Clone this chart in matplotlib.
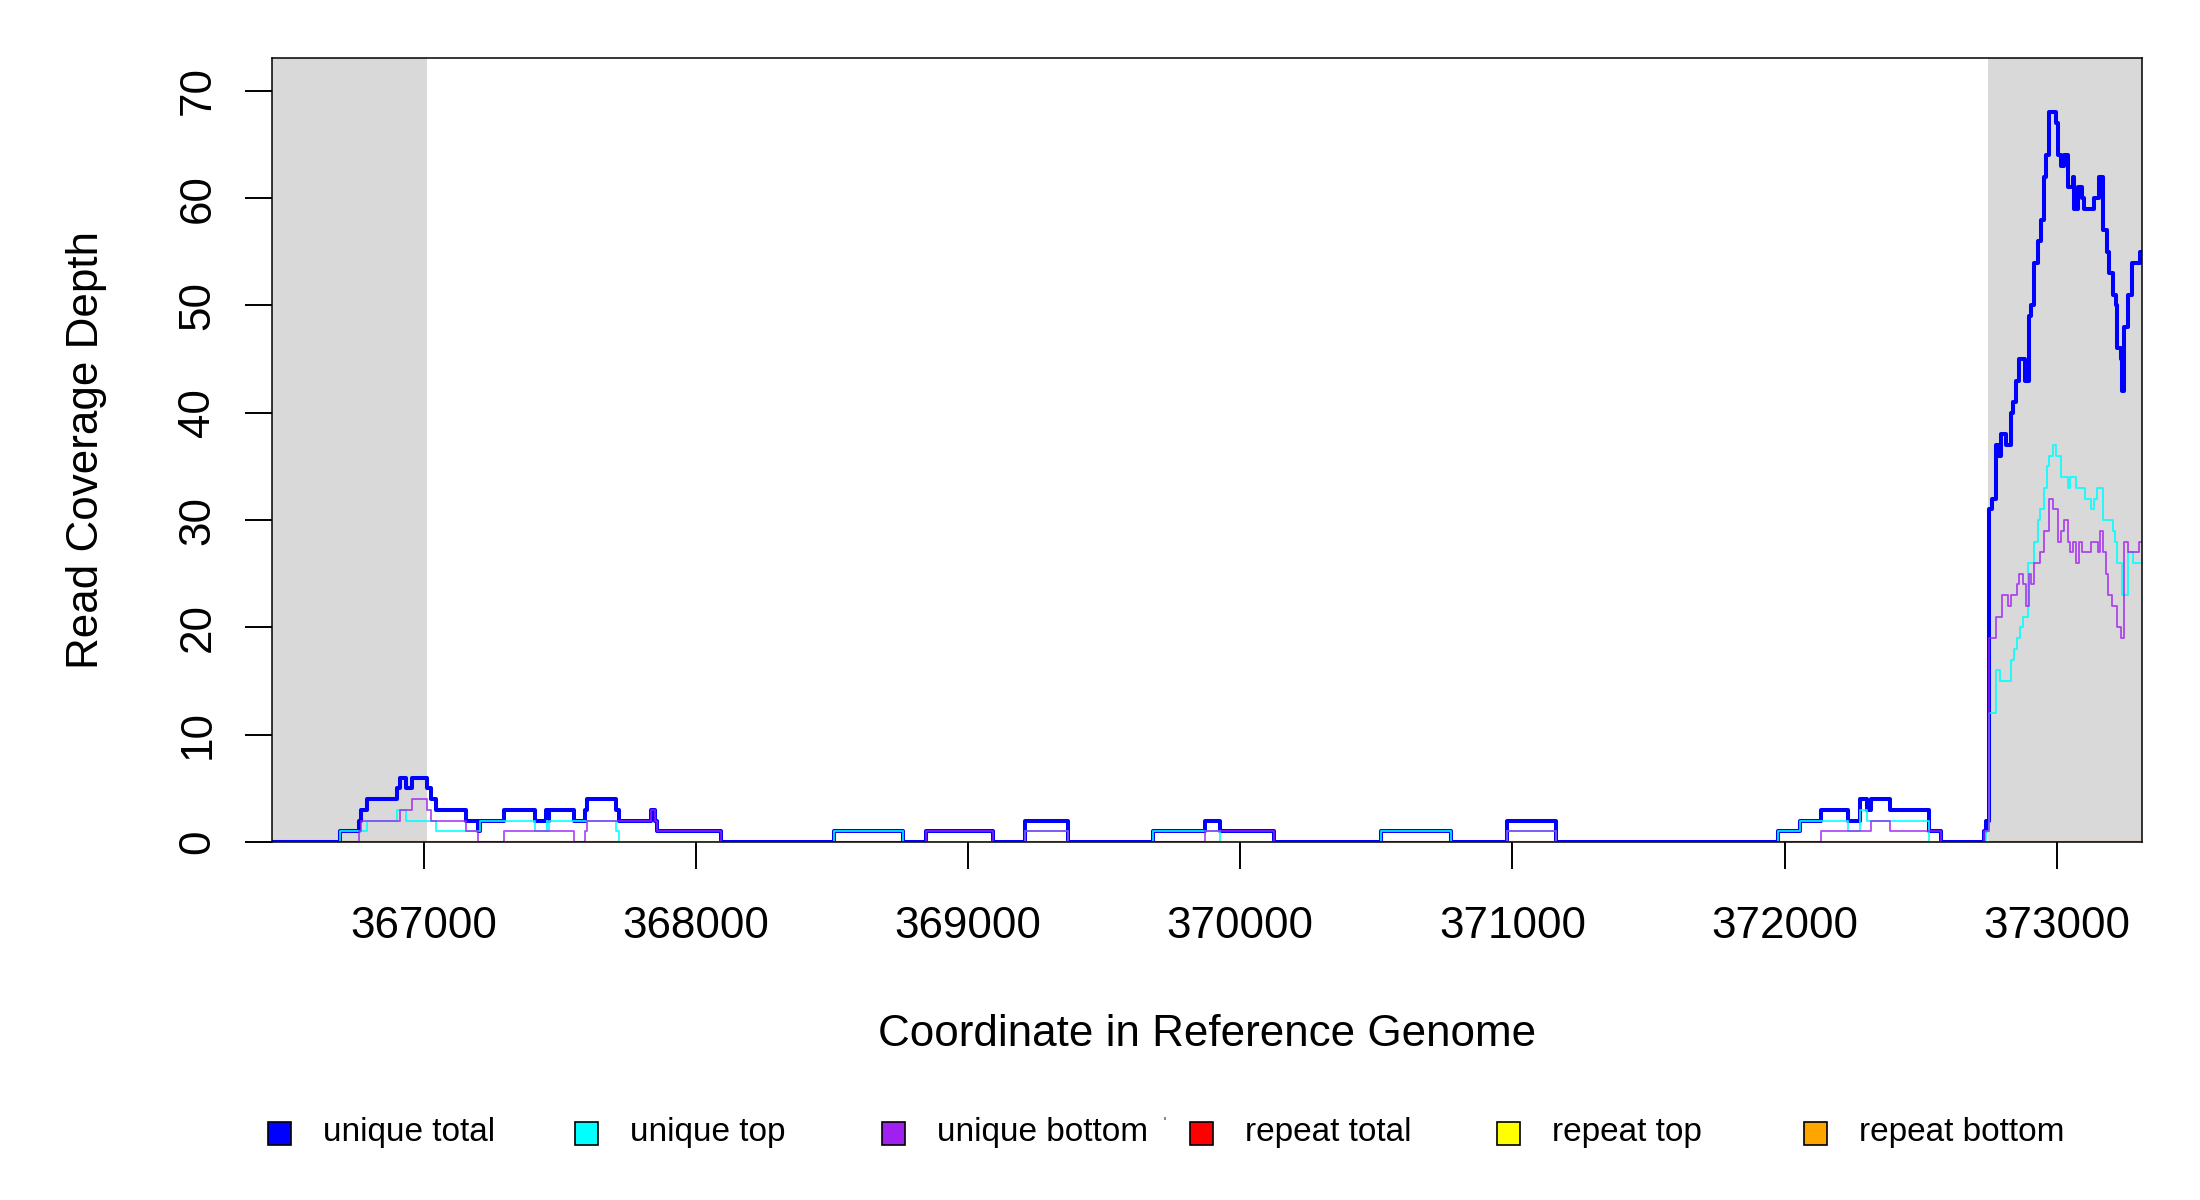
import matplotlib
matplotlib.use("Agg")
import matplotlib.pyplot as plt
from matplotlib.patches import Rectangle

plt.rcParams['font.family'] = ['Liberation Sans', 'DejaVu Sans']

# ---------------- data ----------------
XMIN, XMAX = 366442, 373312
YMAX = 73.05
shade_left = [366442, 367011]
shade_right = [372748, 373312]
x_ticks = [367000, 368000, 369000, 370000, 371000, 372000, 373000]
y_ticks = [0, 10, 20, 30, 40, 50, 60, 70]

# unique total (blue): change points and value from that point on
total_x = [366692, 366761, 366770, 366793, 366903, 366913, 366935, 366956, 367011, 367026,
           367044, 367155, 367201, 367209, 367297, 367409, 367449, 367455, 367462, 367552,
           367593, 367602, 367706, 367717, 367835, 367850, 367857, 368091,
           368508, 368762, 368845, 369093, 369209, 369366, 369680, 369870, 369925, 370124,
           370517, 370773, 370979, 371159, 371976, 372056, 372132, 372234, 372277, 372301,
           372317, 372387, 372531, 372574, 372733, 372741, 372751, 372761, 372775, 372783,
           372787, 372791, 372796, 372814, 372833, 372841, 372851, 372863, 372882, 372897,
           372906, 372918, 372930, 372943, 372952, 372961, 372973, 372998, 373006, 373016,
           373028, 373040, 373059, 373065, 373077, 373093, 373101, 373136, 373156, 373171,
           373184, 373193, 373205, 373217, 373223, 373236, 373240, 373248, 373260, 373278,
           373306]
total_y = [1, 2, 3, 4, 5, 6, 5, 6, 5, 4,
           3, 2, 1, 2, 3, 2, 3, 2, 3, 2,
           3, 4, 3, 2, 3, 2, 1, 0,
           1, 0, 1, 0, 2, 0, 1, 2, 1, 0,
           1, 0, 2, 0, 1, 2, 3, 2, 4, 3,
           4, 3, 1, 0, 1, 2, 31, 32, 37, 36,
           37, 36, 38, 37, 40, 41, 43, 45, 43, 49,
           50, 54, 56, 58, 62, 64, 68, 67, 64, 63,
           64, 61, 62, 59, 61, 60, 59, 60, 62, 57,
           55, 53, 51, 50, 46, 45, 42, 48, 51, 54,
           55]

# unique top (cyan)
top_x = [366692, 366793, 366903, 366935, 367044, 367209, 367409, 367452, 367455, 367462,
         367706, 367717,
         368508, 368762, 369209, 369366, 369680, 369925, 370517, 370773, 370979, 371159,
         371976, 372056, 372234, 372277, 372301, 372531, 372741, 372751, 372778, 372790,
         372830, 372843, 372855, 372866, 372875, 372896, 372918, 372930, 372940, 372952,
         372965, 372973, 372985, 372998, 373016, 373040, 373049, 373071, 373105, 373126,
         373136, 373148, 373171, 373205, 373215, 373223, 373238, 373260, 373281]
top_y = [1, 2, 3, 2, 1, 2, 1, 2, 1, 2,
         1, 0,
         1, 0, 1, 0, 1, 0, 1, 0, 1, 0,
         1, 2, 1, 3, 2, 0, 1, 12, 16, 15,
         17, 18, 19, 20, 21, 26, 28, 30, 31, 33,
         35, 36, 37, 36, 34, 33, 34, 33, 32, 31,
         32, 33, 30, 29, 28, 26, 23, 27, 26]

# unique bottom (purple)
bottom_x = [366761, 366770, 366913, 366956, 367011, 367026, 367155, 367201, 367297, 367552,
            367593, 367602, 367835, 367850, 367857, 368091,
            368845, 369093, 369209, 369366, 369870, 370124, 370979, 371159,
            372132, 372317, 372387, 372574, 372733, 372751, 372778, 372799, 372821, 372833,
            372853, 372863, 372875, 372888, 372897, 372906, 372918, 372940, 372952, 372973,
            372985, 373006, 373016, 373028, 373040, 373049, 373061, 373071, 373083, 373093,
            373126, 373150, 373159, 373171, 373181, 373190, 373203, 373223, 373236, 373248,
            373260, 373303]
bottom_y = [1, 2, 3, 4, 3, 2, 1, 0, 1, 0,
            1, 2, 3, 2, 1, 0,
            1, 0, 1, 0, 1, 0, 1, 0,
            1, 2, 1, 0, 1, 19, 21, 23, 22, 23,
            24, 25, 24, 22, 25, 24, 26, 27, 29, 32,
            31, 28, 29, 30, 28, 27, 28, 26, 28, 27,
            28, 27, 29, 27, 25, 23, 22, 20, 19, 28,
            27, 28]

# repeat series: all zero, drawn over the covered intervals
repeat_total_spans = [(366692, 366761), (367201, 367297), (367552, 367593), (368508, 368762),
                      (369680, 369870), (370517, 370773), (371976, 372132)]
repeat_top_spans = [(367717, 368091), (368845, 369093), (369925, 370124), (372531, 372574)]
repeat_bottom_spans = [(366761, 367201), (367297, 367552), (367593, 367717), (369209, 369366),
                       (369870, 369925), (370979, 371159), (372132, 372531), (372751, 373312)]
repeat_value = 0

legend_labels = ["unique total", "unique top", "unique bottom",
                 "repeat total", "repeat top", "repeat bottom"]
legend_colors = ["#0000FF", "#00FFFF", "#A020F0", "#FF0000", "#FFFF00", "#FFA500"]


def step_xy(xs, ys):
    return [XMIN] + list(xs) + [XMAX], [0] + list(ys) + [ys[-1]]


# ---------------- figure ----------------
W, H = 2200, 1200
fig = plt.figure(figsize=(22, 12), dpi=100)
ax_l, ax_r, ax_t, ax_b = 271.7, 2141.7, 58.1, 842.0
ax = fig.add_axes([ax_l / W, 1 - ax_b / H, (ax_r - ax_l) / W, (ax_b - ax_t) / H])

ax.axvspan(shade_left[0], shade_left[1], color="#D9D9D9", lw=0, zorder=0)
ax.axvspan(shade_right[0], shade_right[1], color="#D9D9D9", lw=0, zorder=0)

x, y = step_xy(total_x, total_y)
ax.step(x, y, where="post", color="#0000FF", lw=2.9, zorder=3)
x, y = step_xy(top_x, top_y)
ax.step(x, y, where="post", color="#00FFFF", lw=1.3, alpha=0.9, zorder=4)
x, y = step_xy(bottom_x, bottom_y)
ax.step(x, y, where="post", color="#A020F0", lw=1.3, alpha=0.8, zorder=5)

for a, b in repeat_total_spans:
    ax.plot([a, b], [repeat_value, repeat_value], color="#FF0000", lw=1.6, alpha=0.45, zorder=6,
            solid_capstyle="butt")
for a, b in repeat_top_spans:
    ax.plot([a, b], [repeat_value, repeat_value], color="#FFFF00", lw=1.6, alpha=0.5, zorder=6,
            solid_capstyle="butt")
for a, b in repeat_bottom_spans:
    ax.plot([a, b], [repeat_value, repeat_value], color="#FFA500", lw=1.6, alpha=0.95, zorder=6,
            solid_capstyle="butt")

ax.set_xlim(XMIN, XMAX)
ax.set_ylim(0, YMAX)
ax.set_xticks(x_ticks)
ax.set_xticklabels([str(t) for t in x_ticks])
ax.set_yticks(y_ticks)
ax.set_yticklabels([str(t) for t in y_ticks], rotation=90, va="center")
ax.tick_params(axis="both", length=19.4, width=1.4, labelsize=31.7, color="black")
ax.tick_params(axis="x", pad=27)
ax.tick_params(axis="y", pad=19)
for s in ax.spines.values():
    s.set_linewidth(1.1)
    s.set_color("black")
    s.set_zorder(7)

fig.text(87 / W, 1 - 450 / H, "Read Coverage Depth", rotation=90, ha="center", va="center",
         fontsize=31.7)
fig.text((ax_l + ax_r) / 2 / W, 1 - 1034 / H, "Coordinate in Reference Genome",
         ha="center", va="center", fontsize=31.7)

# legend row
sq = 23
leg_y = 1133
for i, (lab, col) in enumerate(zip(legend_labels, legend_colors)):
    cx = 279.2 + i * 307.3
    fig.patches.append(Rectangle(((cx - sq / 2) / W, 1 - (leg_y + sq / 2) / H), sq / W, sq / H,
                                 transform=fig.transFigure, facecolor=col, edgecolor="black",
                                 lw=1.2))
    fig.text((322.7 + i * 307.3) / W, 1 - leg_y / H, lab, ha="left", va="center", fontsize=24)

# small stray mark present in the original legend row
fig.patches.append(Rectangle((1164 / W, 1 - 1120 / H), 2 / W, 3 / H, transform=fig.transFigure,
                             facecolor="#888888", edgecolor="none"))

fig.savefig("out.png", dpi=100)
